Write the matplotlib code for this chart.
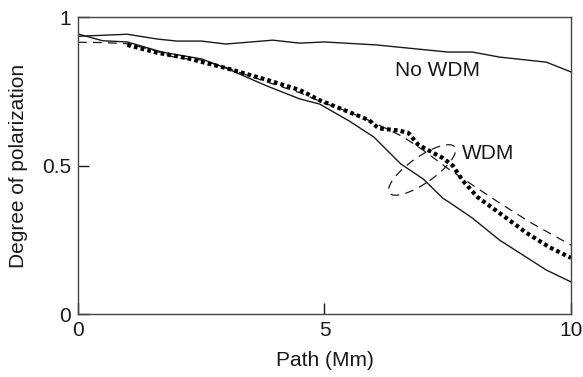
import matplotlib.pyplot as plt
import matplotlib.transforms as transforms
from matplotlib.patches import Ellipse

plt.rcParams['font.family'] = ['Liberation Sans', 'DejaVu Sans']

# No WDM (solid, top)
x_nowdm = [0, 1.0, 1.6, 2.0, 2.5, 3.0, 3.95, 4.5, 5.0, 6.05, 7.5, 8.0, 8.55, 9.5, 10]
y_nowdm = [0.935, 0.942, 0.926, 0.919, 0.919, 0.909, 0.922, 0.912, 0.916, 0.906, 0.882, 0.882, 0.865, 0.848, 0.815]

# WDM solid
x_wdm_solid = [0, 0.5, 1.0, 1.7, 2.5, 3.0, 3.8, 4.5, 4.9, 5.5, 6.0, 6.55, 7.0, 7.4, 7.55, 8.0, 8.55, 9.5, 10]
y_wdm_solid = [0.943, 0.92, 0.916, 0.882, 0.859, 0.828, 0.77, 0.724, 0.707, 0.65, 0.596, 0.505, 0.455, 0.39, 0.374, 0.323, 0.249, 0.148, 0.108]

# WDM dotted
x_wdm_dot = [1.0, 1.6, 2.2, 3.0, 3.8, 4.5, 4.9, 5.2, 5.9, 6.1, 6.5, 6.7, 6.9, 7.4, 7.6, 7.8, 8.1, 8.55, 9.1, 9.55, 10]
y_wdm_dot = [0.906, 0.88, 0.862, 0.828, 0.79, 0.754, 0.72, 0.70, 0.653, 0.625, 0.618, 0.61, 0.57, 0.525, 0.5, 0.45, 0.394, 0.34, 0.273, 0.226, 0.189]

# WDM dashed
x_wdm_dash = [0, 0.5, 1.0, 1.5, 2.0, 2.5, 3.0, 3.5, 4.0, 4.5, 5.0, 5.5, 6.0, 6.6, 7.0, 7.5, 7.95, 8.55, 9.2, 10]
y_wdm_dash = [0.915, 0.914, 0.91, 0.89, 0.862, 0.855, 0.83, 0.80, 0.772, 0.745, 0.71, 0.68, 0.645, 0.596, 0.552, 0.49, 0.44, 0.374, 0.306, 0.232]

fig = plt.figure(figsize=(5.83, 3.77), dpi=100)
ax = fig.add_axes([0.1338, 0.1671, 0.9794 - 0.1338, 0.9549 - 0.1671])

col = '#1a1a1a'
ax.plot(x_nowdm, y_nowdm, color=col, lw=1.0)
ax.plot(x_wdm_solid, y_wdm_solid, color=col, lw=1.0)
ax.plot(x_wdm_dash, y_wdm_dash, color=col, lw=0.9, ls=(0, (7, 5)))
ax.plot(x_wdm_dot, y_wdm_dot, color='black', lw=3.0, ls=(0, (0.9, 0.75)), dash_capstyle='butt')

# dashed ellipse marking the WDM curves
trans = fig.dpi_scale_trans + transforms.ScaledTranslation(6.98, 0.485, ax.transData)
ax.add_patch(Ellipse((0, 0), width=0.80, height=0.26, angle=35, transform=trans,
                     fill=False, ec=col, lw=0.9, ls=(0, (7, 5))))

ax.text(6.43, 0.82, 'No WDM', fontsize=15, va='center', ha='left', color=col)
ax.text(7.79, 0.54, 'WDM', fontsize=15, va='center', ha='left', color=col)

ax.set_xlim(0, 10)
ax.set_ylim(0, 1)
ax.set_xticks([0, 5, 10])
ax.set_xticklabels(['0', '5', '10'])
ax.set_yticks([0, 0.5, 1])
ax.set_yticklabels(['0', '0.5', '1'])
ax.tick_params(direction='in', length=8, width=1, labelsize=15, colors=col, pad=5)
ax.set_xlabel('Path (Mm)', fontsize=15, color=col, labelpad=8)
ax.set_ylabel('Degree of polarization', fontsize=15, color=col, labelpad=10)
for s in ax.spines.values():
    s.set_color('#444444')
    s.set_linewidth(1.0)

fig.savefig('out.png', dpi=100)
